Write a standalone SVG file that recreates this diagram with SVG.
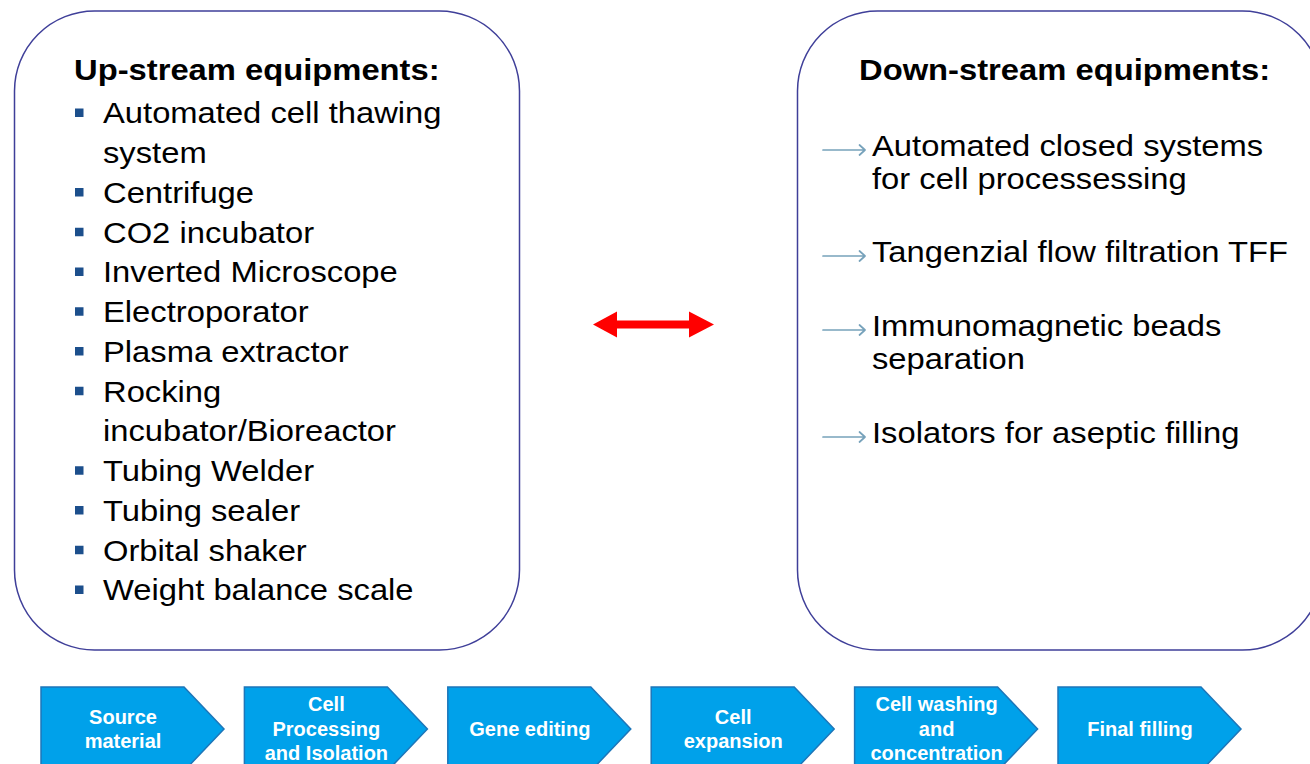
<svg xmlns="http://www.w3.org/2000/svg" width="1310" height="764" viewBox="0 0 1310 764">
<defs>
<style>
.box{fill:#ffffff;stroke:#3f3f99;stroke-width:1.5}
.ttl{font-family:"Liberation Sans",Arial,sans-serif;font-weight:bold;font-size:29.5px;fill:#000}
.itm{font-family:"Liberation Sans",Arial,sans-serif;font-size:29.5px;fill:#000}
.bul{fill:#1c4f8c}
.arr{fill:none;stroke:#77a2bb;stroke-width:1.7;stroke-linecap:round;stroke-linejoin:round}
.chev{fill:#00a1ea;stroke:#1d76b9;stroke-width:1.5}
.ct{font-family:"Liberation Sans",Arial,sans-serif;font-weight:bold;font-size:20px;fill:#ffffff;text-anchor:middle}
</style>
</defs>
<rect width="1310" height="764" fill="#ffffff"/>

<g id="upstream">
<rect class="box" x="14.5" y="11" width="505" height="639" rx="80" ry="80"/>
<g transform="translate(74 0) scale(1.11 1)"><text class="ttl" x="0" y="80">Up-stream equipments:</text></g>
<rect class="bul" x="75" y="108.5" width="8.5" height="8.5"/>
<rect class="bul" x="75" y="188" width="8.5" height="8.5"/>
<rect class="bul" x="75" y="227.75" width="8.5" height="8.5"/>
<rect class="bul" x="75" y="267.5" width="8.5" height="8.5"/>
<rect class="bul" x="75" y="307.25" width="8.5" height="8.5"/>
<rect class="bul" x="75" y="347" width="8.5" height="8.5"/>
<rect class="bul" x="75" y="386.75" width="8.5" height="8.5"/>
<rect class="bul" x="75" y="466.25" width="8.5" height="8.5"/>
<rect class="bul" x="75" y="506" width="8.5" height="8.5"/>
<rect class="bul" x="75" y="545.75" width="8.5" height="8.5"/>
<rect class="bul" x="75" y="585.5" width="8.5" height="8.5"/>
<g transform="translate(103 0) scale(1.11 1)">
<text class="itm" x="0" y="123.5">Automated cell thawing</text>
<text class="itm" x="0" y="163.25">system</text>
<text class="itm" x="0" y="203">Centrifuge</text>
<text class="itm" x="0" y="242.75">CO2 incubator</text>
<text class="itm" x="0" y="282.5">Inverted Microscope</text>
<text class="itm" x="0" y="322.25">Electroporator</text>
<text class="itm" x="0" y="362">Plasma extractor</text>
<text class="itm" x="0" y="401.75">Rocking</text>
<text class="itm" x="0" y="441.5">incubator/Bioreactor</text>
<text class="itm" x="0" y="481.25">Tubing Welder</text>
<text class="itm" x="0" y="521">Tubing sealer</text>
<text class="itm" x="0" y="560.75">Orbital shaker</text>
<text class="itm" x="0" y="600.5">Weight balance scale</text>
</g>
</g>

<g id="downstream">
<rect class="box" x="797.5" y="11" width="525" height="639" rx="80" ry="80"/>
<g transform="translate(859 0) scale(1.11 1)"><text class="ttl" x="0" y="80">Down-stream equipments:</text></g>
<path class="arr" d="M823 150H865M859.5 145L865 150L859.5 155"/>
<path class="arr" d="M823 256H865M859.5 251L865 256L859.5 261"/>
<path class="arr" d="M823 330H865M859.5 325L865 330L859.5 335"/>
<path class="arr" d="M823 437H865M859.5 432L865 437L859.5 442"/>
<g transform="translate(872 0) scale(1.11 1)">
<text class="itm" x="0" y="156.5">Automated closed systems</text>
<text class="itm" x="0" y="189">for cell processessing</text>
<text class="itm" x="0" y="262.5">Tangenzial flow filtration TFF</text>
<text class="itm" x="0" y="336.5">Immunomagnetic beads</text>
<text class="itm" x="0" y="369">separation</text>
<text class="itm" x="0" y="443.5">Isolators for aseptic filling</text>
</g>
</g>

<g id="connectors">
<polygon fill="#ff0000" points="593,324.5 617,311.5 617,320.5 689,320.5 689,311.5 714,324.5 689,337.5 689,328.5 617,328.5 617,337.5"/>
</g>

<g id="step-source">
<polygon class="chev" points="41,687 184,687 224,729 184,771 41,771"/>
<text class="ct" x="123" y="724">Source</text>
<text class="ct" x="123" y="748">material</text>
</g>
<g id="step-processing">
<polygon class="chev" points="244.4,687 387.4,687 427.4,729 387.4,771 244.4,771"/>
<text class="ct" x="326.4" y="711">Cell</text>
<text class="ct" x="326.4" y="736">Processing</text>
<text class="ct" x="326.4" y="760">and Isolation</text>
</g>
<g id="step-gene">
<polygon class="chev" points="447.8,687 590.8,687 630.8,729 590.8,771 447.8,771"/>
<text class="ct" x="529.8" y="736">Gene editing</text>
</g>
<g id="step-expansion">
<polygon class="chev" points="651.2,687 794.2,687 834.2,729 794.2,771 651.2,771"/>
<text class="ct" x="733.2" y="724">Cell</text>
<text class="ct" x="733.2" y="748">expansion</text>
</g>
<g id="step-washing">
<polygon class="chev" points="854.6,687 997.6,687 1037.6,729 997.6,771 854.6,771"/>
<text class="ct" x="936.6" y="711">Cell washing</text>
<text class="ct" x="936.6" y="736">and</text>
<text class="ct" x="936.6" y="760">concentration</text>
</g>
<g id="step-filling">
<polygon class="chev" points="1058,687 1201,687 1241,729 1201,771 1058,771"/>
<text class="ct" x="1140" y="736">Final filling</text>
</g>
</svg>
